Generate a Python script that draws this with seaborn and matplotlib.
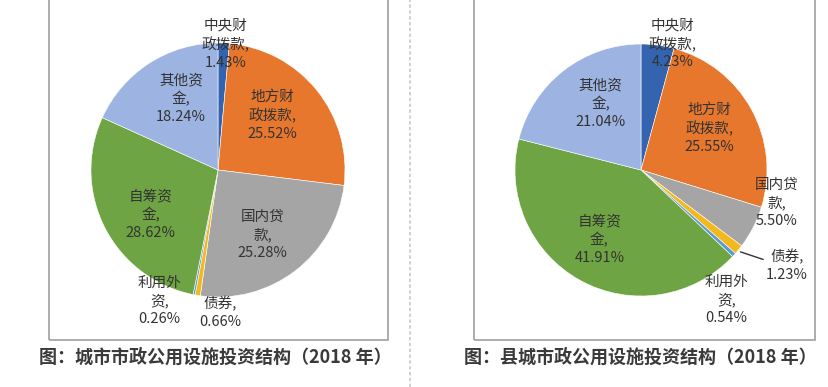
import matplotlib
matplotlib.use("Agg")
import matplotlib.pyplot as plt
from matplotlib.patches import Rectangle
from matplotlib.lines import Line2D
import seaborn as sns

sns.set_theme(style="white")
plt.rcParams['font.family'] = ['Noto Sans CJK SC', 'DejaVu Sans']

# ---- data ----
categories = ["中央财政拨款", "地方财政拨款", "国内贷款", "债券", "利用外资", "自筹资金", "其他资金"]
label_texts = ["中央财\n政拨款,", "地方财\n政拨款,", "国内贷\n款,", "债券,", "利用外\n资,", "自筹资\n金,", "其他资\n金,"]
city_values = [1.43, 25.52, 25.28, 0.66, 0.26, 28.62, 18.24]
county_values = [4.23, 25.55, 5.50, 1.23, 0.54, 41.91, 21.04]
captions = ["图：城市市政公用设施投资结构（2018 年）", "图：县城市政公用设施投资结构（2018 年）"]

colors = sns.color_palette(["#3464b0", "#e8772e", "#a5a5a5", "#f2b81c", "#5b9bd5", "#6ea443", "#9db3e2"])

# label positions (in pie-radius units, relative to centre) -- styling only
city_label_pos = [(0.06, 0.99), (0.43, 0.43), (0.35, -0.51), (0.02, -1.12),
                  (-0.46, -1.03), (-0.53, -0.35), (-0.29, 0.56)]
county_label_pos = [(0.25, 1.0), (0.54, 0.33), (1.08, -0.26), (1.16, -0.76),
                    (0.68, -1.03), (-0.33, -0.55), (-0.32, 0.53)]

W, H = 829, 387
fig = plt.figure(figsize=(W / 100, H / 100), dpi=100)
fig.patch.set_facecolor("white")

# frames
for (x0, x1) in [(49, 388), (474, 815)]:
    fig.patches.append(Rectangle((x0 / W, (H - 340) / H), (x1 - x0) / W, 360 / H,
                                 transform=fig.transFigure, fill=False,
                                 edgecolor="#a6a6a6", linewidth=1.3))
# dashed separator
fig.lines.append(Line2D([410 / W, 410 / W], [0, 1], transform=fig.transFigure,
                        color="#c8c8c8", linestyle=(0, (2, 1.5)), linewidth=1.2))


def draw_pie(cx, cy, r, values, label_pos, caption, cap_x, leader=None):
    ax = fig.add_axes([(cx - r) / W, (H - cy - r) / H, 2 * r / W, 2 * r / H])
    ax.pie(values, colors=colors, startangle=90, counterclock=False, radius=1,
           wedgeprops=dict(edgecolor="white", linewidth=0.4))
    ax.set_xlim(-1, 1)
    ax.set_ylim(-1, 1)
    ax.set_aspect("auto")
    ax.axis("off")
    for txt, v, (lx, ly) in zip(label_texts, values, label_pos):
        ax.text(lx, ly, f"{txt}\n{v:.2f}%", ha="center", va="center",
                fontsize=10.5, color="#333333", linespacing=1.32, clip_on=False)
    if leader is not None:
        (x0, y0), (x1, y1) = leader
        ax.plot([x0, x1], [y0, y1], color="#333333", linewidth=1, clip_on=False)
    fig.text(cap_x / W, (H - 357) / H, caption, ha="center", va="center",
             fontsize=13, fontweight="bold", color="#3a3a3a")


draw_pie(218, 170, 127, city_values, city_label_pos, captions[0], 215)
draw_pie(641, 170, 126, county_values, county_label_pos, captions[1], 640,
         leader=((0.79, -0.65), (0.97, -0.71)))

fig.savefig("out.png", dpi=100, facecolor="white")
